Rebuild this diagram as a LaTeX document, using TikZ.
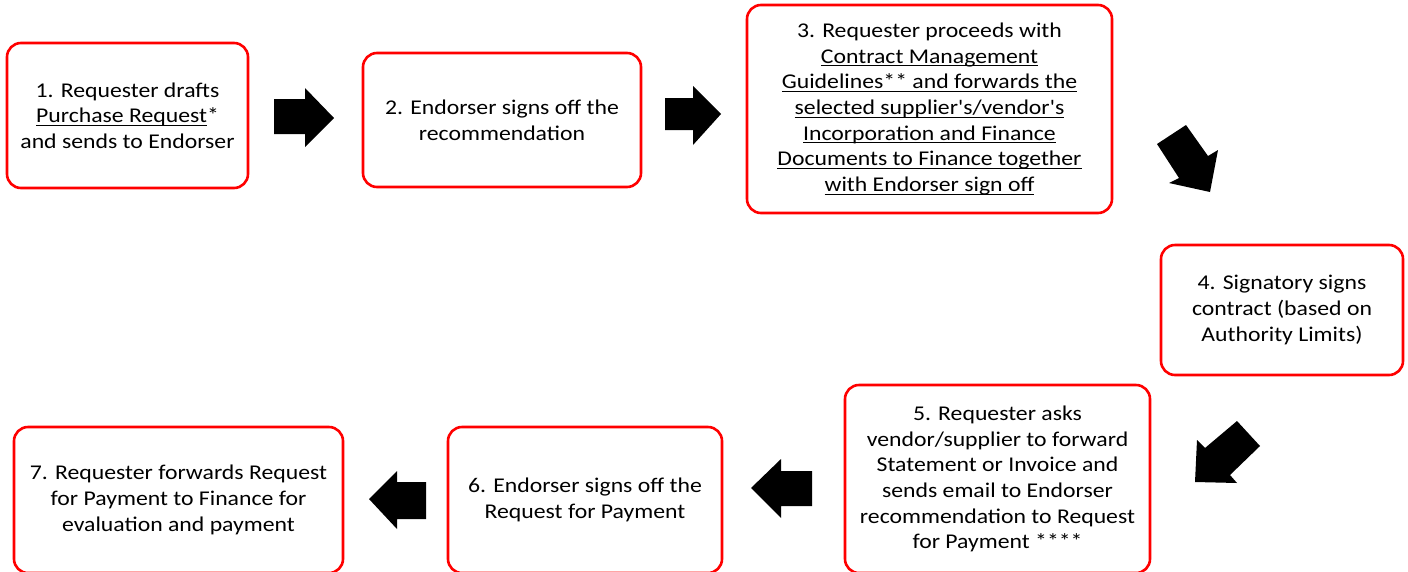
\documentclass[tikz,border=0pt]{standalone}
\usepackage{fontspec}
\setmainfont[FakeStretch=1.13,Ligatures=TeXOff]{Carlito}
\newcommand{\myul}[1]{\leavevmode\setbox0\hbox{#1}\rlap{\rule[-3.2pt]{\wd0}{1.1pt}}\box0}
\begin{document}
\begin{tikzpicture}[x=1pt,y=-1pt,
  stepbox/.style={draw=red, line width=2.6pt, rounded corners=14pt, fill=white,
    align=center, inner sep=0pt, text=black,
    font=\fontsize{21}{25.7}\selectfont},
  blockarrow/.style={fill=black, draw=none}]
\useasboundingbox (0,0) rectangle (1408,571);
\clip (0,0) rectangle (1408,571);
\fill[white] (0,0) rectangle (1408,571);

\node[stepbox, minimum width=241pt, minimum height=145pt] (s1) at (127.5,115.5)
  {1. Requester drafts\\ \myul{Purchase Request}*\\ and sends to Endorser};
\node[stepbox, minimum width=278pt, minimum height=134pt] (s2) at (502,120)
  {2. Endorser signs off the\\ recommendation};
\node[stepbox, minimum width=365pt, minimum height=208pt] (s3) at (929.5,109)
  {3. Requester proceeds with\\ \myul{Contract Management}\\ \myul{Guidelines** and forwards the}\\
   \myul{selected supplier's/vendor's}\\ \myul{Incorporation and Finance}\\
   \myul{Documents to Finance together}\\ \myul{with Endorser sign off}};
\node[stepbox, minimum width=242pt, minimum height=130pt] (s4) at (1282,310)
  {4. Signatory signs\\ contract (based on\\ Authority Limits)};
\node[stepbox, minimum width=305pt, minimum height=188pt] (s5) at (997.5,479)
  {5. Requester asks\\ vendor/supplier to forward\\ Statement or Invoice and\\
   sends email to Endorser\\ recommendation to Request\\ for Payment ****};
\node[stepbox, minimum width=274pt, minimum height=146pt] (s6) at (585,500)
  {6. Endorser signs off the\\ Request for Payment};
\node[stepbox, minimum width=329pt, minimum height=146pt] (s7) at (178.5,500)
  {7. Requester forwards Request\\ for Payment to Finance for\\ evaluation and payment};

% block arrows between the steps
\fill[blockarrow] (274,99) -- (305,99) -- (305,88) -- (334,118) -- (305,147) -- (305,134) -- (274,134) -- cycle;
\fill[blockarrow] (665,98) -- (693,98) -- (693,86) -- (721,114) -- (693,145) -- (693,130) -- (665,130) -- cycle;
\fill[blockarrow] (1157,144) -- (1186,125) -- (1208,156) -- (1218,150) -- (1210,192) -- (1169,183) -- (1179,178) -- cycle;
\fill[blockarrow] (1237,421) -- (1260,446) -- (1230,475) -- (1237,483) -- (1195,482) -- (1197,440) -- (1205,448) -- cycle;
\fill[blockarrow] (812,471) -- (781,471) -- (781,459) -- (751,488) -- (781,518) -- (781,506) -- (812,506) -- cycle;
\fill[blockarrow] (426,482) -- (397,482) -- (397,471) -- (369,499) -- (397,529) -- (397,519) -- (426,519) -- cycle;
\end{tikzpicture}
\end{document}
